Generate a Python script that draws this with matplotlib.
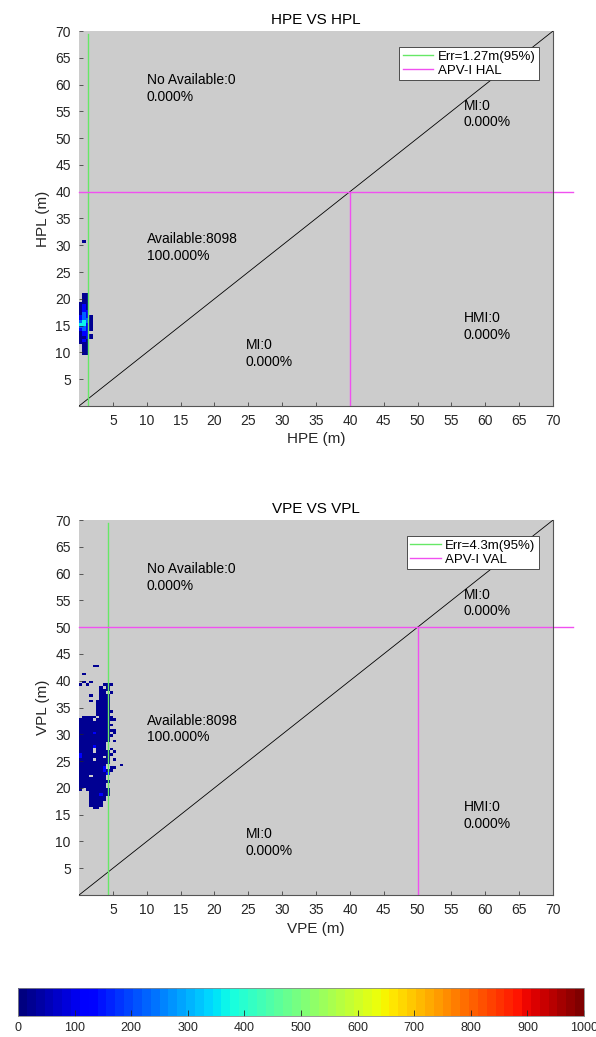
import numpy as np
import matplotlib.pyplot as plt
from matplotlib.colors import Normalize

plt.rcParams['font.family'] = ['Liberation Sans', 'DejaVu Sans']

# count per bin for each grid symbol ('.' = empty)
levels = {'.': 0, '1': 30, '2': 120, '3': 220, '4': 370}
bin_w = 0.5

# HPE vs HPL histogram, 0.5 m bins, first row is the bin 20.5-21, first column x 0-0.5
hpe_top = 21.0
hpe_grid = [
    ".11.",
    ".11.",
    ".11.",
    "111.",
    "121.",
    "121.",
    "122.",
    "132.",
    "2321",
    "2331",
    "3431",
    "4421",
    "3321",
    "2321",
    "122.",
    "1221",
    "1121",
    "121.",
    "111.",
    ".11.",
    ".11.",
    ".11.",
    ".11.",
]
hpe_lone_top = 31.0
hpe_lone_grid = [".1"]

# VPE vs VPL histogram, first row is the bin 42.5-43, last row 16-16.5
vpe_top = 43.0
vpe_grid = [
    "....11........",
    "..............",
    "..............",
    ".1............",
    "..............",
    "..............",
    ".1.1..........",
    "1.1....111....",
    "......1.1.....",
    "......111.....",
    "......11.1....",
    "...1..111.....",
    "......111.....",
    "...1.1111.....",
    ".....1111.....",
    ".....1111.....",
    ".....1111.....",
    ".....11111....",
    ".....1111.....",
    ".1111.1111....",
    "1111.111111...",
    "111111111.....",
    "1111111111....",
    "111111111.....",
    "11111111111...",
    "111121111.1...",
    "1111111111....",
    "111111111.....",
    "111111111.1...",
    "11111111......",
    "11112111......",
    "1111.111.1....",
    "1111.1111.1...",
    "2111111111....",
    "2111111.1.....",
    "1111.1111.1...",
    "111111111.....",
    "11111111....1.",
    "11111112.11...",
    "1111111211....",
    "111111112.....",
    "111.1111......",
    "11111111......",
    "111111111.....",
    "11111111......",
    "11111111......",
    "1.1111111.....",
    "...111111.....",
    "...111211.....",
    "...11111......",
    "...11111......",
    "...1111.......",
    "...1111.......",
    "....11........",
]

hpe_err, hal = 1.27, 40
vpe_err, val = 4.3, 50
avail = 8098
tick_vals = np.arange(5, 71, 5)

cmap = plt.get_cmap('jet', 64)
norm = Normalize(0, 1000)
ink = '#262626'


def draw_grid(ax, grid, top):
    nrow = len(grid)
    ncol = max(len(r) for r in grid)
    z = np.zeros((nrow, ncol))
    for i, row in enumerate(grid):
        for j, ch in enumerate(row):
            z[i, j] = levels[ch]
    z = np.ma.masked_equal(z, 0)
    xe = np.arange(ncol + 1) * bin_w
    ye = top - np.arange(nrow + 1) * bin_w
    ax.pcolormesh(xe, ye, z, cmap=cmap, norm=norm, shading='flat')


def panel(ax, grids, err, lim, lim_name, title, xlab, ylab, avail_y):
    ax.set_facecolor('#cccccc')
    for grid, top in grids:
        draw_grid(ax, grid, top)
    ax.plot([0, 70], [0, 70], color='k', lw=0.6)
    g, = ax.plot([err, err], [0, 69.5], color='#66e866', lw=1.0)
    m, = ax.plot([0, 73], [lim, lim], color='#f050f0', lw=1.0, clip_on=False)
    ax.plot([lim, lim], [0, lim], color='#f050f0', lw=1.0)
    ax.set_xlim(0, 70)
    ax.set_ylim(0, 70)
    ax.set_xticks(tick_vals)
    ax.set_yticks(tick_vals)
    ax.tick_params(direction='in', length=3, width=0.5, colors=ink,
                   labelsize=10, pad=6)
    for s in ['left', 'top']:
        ax.spines[s].set_visible(False)
    for s in ['bottom', 'right']:
        ax.spines[s].set_color('#555555')
        ax.spines[s].set_linewidth(0.8)
    ax.set_title(title, fontsize=11, color='k', pad=5)
    ax.set_xlabel(xlab, fontsize=11, color=ink, labelpad=3)
    ax.set_ylabel(ylab, fontsize=11, color=ink, labelpad=4)
    leg = ax.legend([g, m], [f'Err={err}m(95%)', lim_name], loc='upper right',
                    bbox_to_anchor=(0.970, 0.957), borderaxespad=0, fontsize=9.5,
                    fancybox=False, framealpha=1, edgecolor='#333333',
                    handlelength=2.3, handletextpad=0.35, borderpad=0.25,
                    labelspacing=0.15)
    leg.get_frame().set_linewidth(0.6)
    kw = dict(fontsize=10, color='k', va='center', linespacing=1.25)
    ax.text(10, 59.3, 'No Available:0\n0.000%', **kw)
    ax.text(56.8, 54.5, 'MI:0\n0.000%', **kw)
    ax.text(10, avail_y, f'Available:{avail}\n100.000%', **kw)
    ax.text(24.6, 9.8, 'MI:0\n0.000%', **kw)
    ax.text(56.8, 14.8, 'HMI:0\n0.000%', **kw)


fig = plt.figure(figsize=(5.96, 10.37), dpi=100)
ax1 = fig.add_axes([0.1326, 0.6085, 0.7953, 0.3616])
ax2 = fig.add_axes([0.1326, 0.1369, 0.7953, 0.3616])
cax = fig.add_axes([0.0302, 0.0203, 0.9497, 0.027])

panel(ax1, [(hpe_grid, hpe_top), (hpe_lone_grid, hpe_lone_top)], hpe_err, hal,
      'APV-I HAL', 'HPE VS HPL', 'HPE (m)', 'HPL (m)', 29.6)
panel(ax2, [(vpe_grid, vpe_top)], vpe_err, val,
      'APV-I VAL', 'VPE VS VPL', 'VPE (m)', 'VPL (m)', 31.0)

sm = plt.cm.ScalarMappable(norm=norm, cmap=cmap)
cb = fig.colorbar(sm, cax=cax, orientation='horizontal')
cb.set_ticks(np.arange(0, 1001, 100))
cb.ax.tick_params(direction='in', length=4, width=0.6, colors=ink,
                  labelsize=9, pad=4)
cb.outline.set_edgecolor('#888888')
cb.outline.set_linewidth(0.6)

fig.savefig('out.png', dpi=100)
